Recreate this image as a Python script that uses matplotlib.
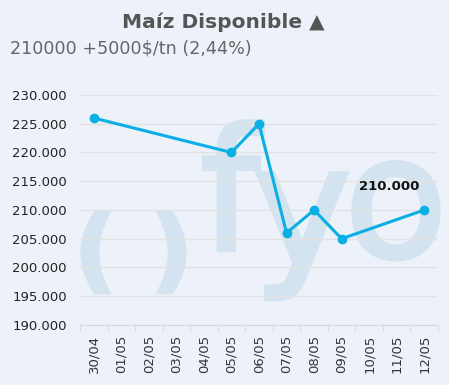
import matplotlib
matplotlib.use("Agg")
import matplotlib.pyplot as plt
import matplotlib.patheffects as pe
import numpy as np

categories = ["30/04", "01/05", "02/05", "03/05", "04/05", "05/05", "06/05",
              "07/05", "08/05", "09/05", "10/05", "11/05", "12/05"]
values = [226000, None, None, None, None, 220000, 225000,
          206000, 210000, 205000, None, None, 210000]
y_ticks = [190000, 195000, 200000, 205000, 210000, 215000, 220000, 225000, 230000]
title = "Maíz Disponible ▲"
subtitle = "210000 +5000$/tn (2,44%)"
last_label = "210.000"

W, H = 449, 385
bg = "#edf1f9"
fig = plt.figure(figsize=(W / 100, H / 100), dpi=100, facecolor=bg)
ax = fig.add_axes([80 / W, 1 - 325 / H, 358 / W, 230 / H])
ax.set_facecolor(bg)

# watermark (logo)
wm = "#d3e4f0"
def wtext(xp, yp, s, size, weight="normal", lw=3):
    ax.text(xp / W, 1 - yp / H, s, transform=fig.transFigure, fontsize=size,
            family="DejaVu Sans", fontweight=weight, color=wm, ha="center",
            va="center", zorder=0, clip_on=False,
            path_effects=[pe.withStroke(linewidth=lw, foreground=wm,
                                        capstyle="butt", joinstyle="miter")])

wtext(95, 256, "(", 64, "bold", 3)
wtext(172, 256, ")", 64, "bold", 3)
wtext(230, 203, "f", 122)
wtext(302, 218, "y", 120)
wtext(396, 210, "o", 122)

x = np.arange(len(categories))
xs = [i for i, v in zip(x, values) if v is not None]
ys = [v for v in values if v is not None]
ax.plot(xs, ys, color="#0aafe3", lw=2.2, marker="o", ms=6, zorder=3,
        solid_joinstyle="round")

ax.set_xlim(-0.5, len(categories) - 0.5)
ax.set_ylim(190000, 230000)
ax.set_yticks(y_ticks)
ax.set_yticklabels([f"{v:,}".replace(",", ".") for v in y_ticks],
                   fontsize=9.5, color="#222222")
ax.set_xticks(x)
ax.set_xticklabels(categories, rotation=90, fontsize=9.5, color="#333333")
ax.set_xticks(np.arange(-0.5, len(categories), 1), minor=True)
ax.tick_params(axis="x", which="major", length=0, pad=7)
ax.tick_params(axis="x", which="minor", length=5, color="#d8d8d8")
ax.tick_params(axis="y", length=0, pad=9.5)
ax.grid(axis="y", color="#e2e2e2", lw=1, zorder=1)
for s in ["top", "right", "left"]:
    ax.spines[s].set_visible(False)
ax.spines["bottom"].set_color("#d8d8d8")

ax.annotate(last_label, (xs[-1], ys[-1]), xytext=(-25, 17),
            textcoords="offset points", ha="center", va="center",
            fontsize=9.5, fontweight="bold", color="#111111", zorder=4)

fig.text(223 / W, 1 - 22 / H, title, ha="center", va="center",
         fontsize=14.5, fontweight="bold", color="#555555")
fig.text(10 / W, 1 - 48 / H, subtitle, ha="left", va="center",
         fontsize=12.6, color="#666666")

fig.savefig("out.png", dpi=100, facecolor=bg)
